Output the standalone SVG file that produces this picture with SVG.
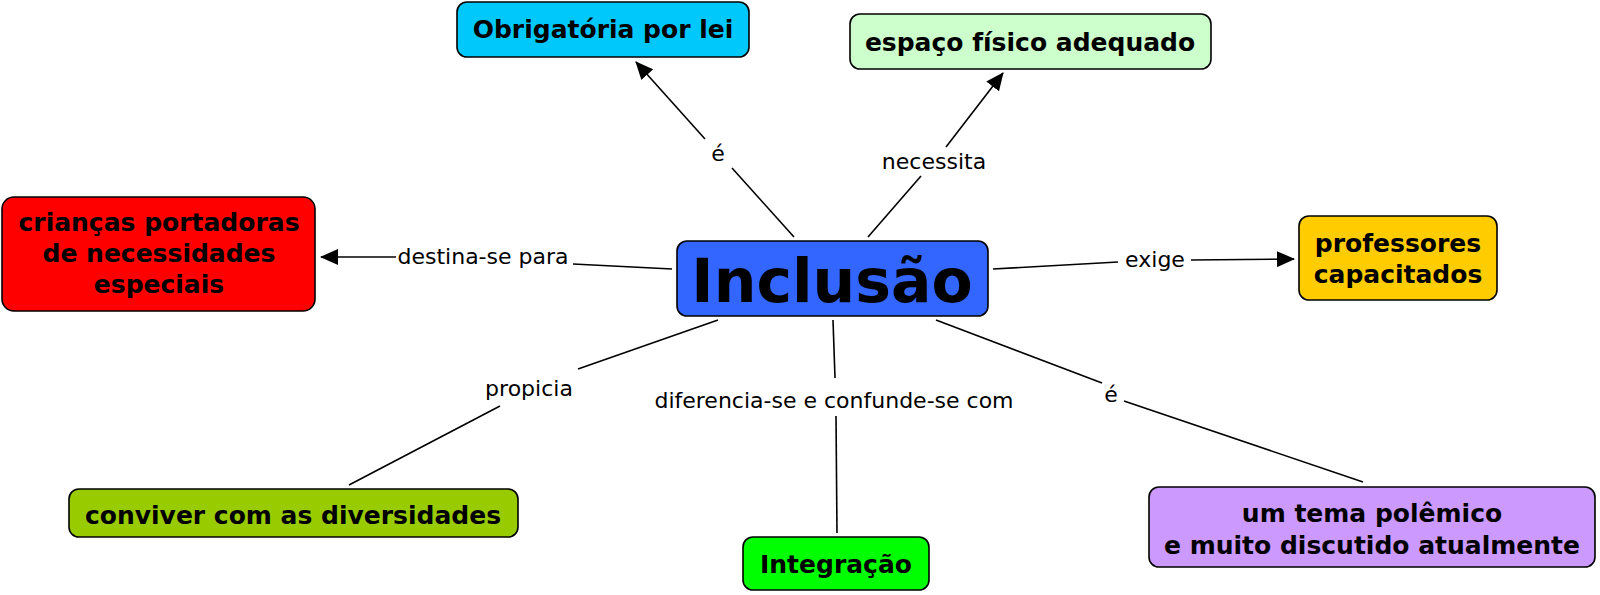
<svg xmlns="http://www.w3.org/2000/svg" width="1600" height="595" viewBox="0 0 1600 595">
<defs>
<marker id="arr" markerWidth="18" markerHeight="16" refX="17" refY="8" orient="auto" markerUnits="userSpaceOnUse">
<path d="M0,0 L18,8 L0,16 Z" fill="#000"/>
</marker>
<style>
.box{stroke:#000;stroke-width:1.6}
.nt{font-family:"DejaVu Sans",Verdana,sans-serif;font-weight:bold;font-size:25px;fill:#000;text-anchor:middle}
.lb{font-family:"DejaVu Sans",Verdana,sans-serif;font-size:22px;fill:#000;text-anchor:middle}
.ln{stroke:#000;stroke-width:1.6;fill:none}
</style>
</defs>
<rect width="1600" height="595" fill="#fff"/>
<g id="connectors">
<line class="ln" x1="794" y1="237" x2="732" y2="168"/>
<line class="ln" x1="705" y1="139" x2="636" y2="62" marker-end="url(#arr)"/>
<text class="lb" x="718" y="161">é</text>
<line class="ln" x1="868" y1="237" x2="921" y2="176"/>
<line class="ln" x1="946" y1="147" x2="1003" y2="73" marker-end="url(#arr)"/>
<text class="lb" x="934" y="169">necessita</text>
<line class="ln" x1="672" y1="269" x2="573" y2="264"/>
<line class="ln" x1="396" y1="257" x2="321" y2="257" marker-end="url(#arr)"/>
<text class="lb" x="483" y="264">destina-se para</text>
<line class="ln" x1="993" y1="269" x2="1118" y2="262"/>
<line class="ln" x1="1191" y1="260" x2="1294" y2="259" marker-end="url(#arr)"/>
<text class="lb" x="1155" y="267">exige</text>
<line class="ln" x1="718" y1="320" x2="578" y2="369"/>
<line class="ln" x1="500" y1="406" x2="349" y2="485"/>
<text class="lb" x="529" y="396">propicia</text>
<line class="ln" x1="833" y1="320" x2="835" y2="378"/>
<line class="ln" x1="836" y1="416" x2="837" y2="533"/>
<text class="lb" x="834" y="408">diferencia-se e confunde-se com</text>
<line class="ln" x1="936" y1="320" x2="1102" y2="383"/>
<line class="ln" x1="1124" y1="401" x2="1363" y2="482"/>
<text class="lb" x="1111" y="402">é</text>
</g>
<g id="n-obrigatoria">
<rect class="box" x="457" y="2" width="292" height="55" rx="10" fill="#00c8fa"/>
<text class="nt" x="603" y="38">Obrigatória por lei</text>
</g>
<g id="n-espaco">
<rect class="box" x="850" y="14" width="361" height="55" rx="10" fill="#ccffcc"/>
<text class="nt" x="1030" y="51">espaço físico adequado</text>
</g>
<g id="n-inclusao">
<rect class="box" x="677" y="241" width="311" height="75" rx="10" fill="#3366ff"/>
<text class="nt" x="832" y="302" style="font-size:60px">Inclusão</text>
</g>
<g id="n-criancas">
<rect class="box" x="2" y="197" width="313" height="114" rx="12" fill="#ff0000"/>
<text class="nt" x="159" y="231">crianças portadoras</text>
<text class="nt" x="159" y="262">de necessidades</text>
<text class="nt" x="159" y="293">especiais</text>
</g>
<g id="n-professores">
<rect class="box" x="1299" y="216" width="198" height="84" rx="10" fill="#ffcc00"/>
<text class="nt" x="1398" y="252">professores</text>
<text class="nt" x="1398" y="283">capacitados</text>
</g>
<g id="n-conviver">
<rect class="box" x="69" y="489" width="449" height="48" rx="10" fill="#99cc00"/>
<text class="nt" x="293" y="524">conviver com as diversidades</text>
</g>
<g id="n-integracao">
<rect class="box" x="743" y="537" width="186" height="53" rx="10" fill="#00ff00"/>
<text class="nt" x="836" y="573">Integração</text>
</g>
<g id="n-tema">
<rect class="box" x="1149" y="487" width="446" height="80" rx="10" fill="#cc99ff"/>
<text class="nt" x="1372" y="522">um tema polêmico</text>
<text class="nt" x="1372" y="554">e muito discutido atualmente</text>
</g>
</svg>
